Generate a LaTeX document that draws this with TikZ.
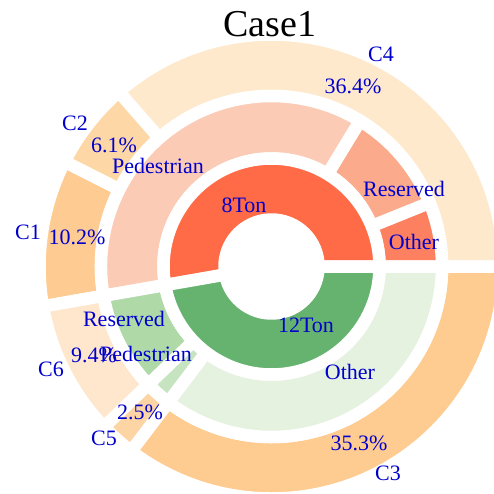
\documentclass[tikz,border=0pt]{standalone}
\usepackage{fontspec}
\setmainfont{Liberation Serif}

\definecolor{ton8}{RGB}{255,106,71}
\definecolor{ton12}{RGB}{101,179,110}
\definecolor{ped8}{RGB}{252,203,181}
\definecolor{res8}{RGB}{252,170,140}
\definecolor{oth8}{RGB}{253,128,96}
\definecolor{res12}{RGB}{176,217,168}
\definecolor{ped12}{RGB}{199,228,192}
\definecolor{oth12}{RGB}{229,242,223}
\definecolor{cfour}{RGB}{254,233,204}
\definecolor{ctwo}{RGB}{253,216,166}
\definecolor{cone}{RGB}{254,203,146}
\definecolor{csix}{RGB}{254,231,204}
\definecolor{cfive}{RGB}{253,213,165}
\definecolor{cthree}{RGB}{254,203,145}
\definecolor{labelblue}{RGB}{0,0,205}

\begin{document}
\begin{tikzpicture}[
    x=1pt, y=1pt,
    wedge/.style={draw=white, line width=12.5, line join=round},
    lbl/.style={text=labelblue, font=\fontsize{22}{26}\selectfont,
        anchor=base, inner sep=0pt},
    ttl/.style={font=\fontsize{38}{44}\selectfont, anchor=base, inner sep=0pt}
]
    \useasboundingbox (0,0) rectangle (494,493);
    \clip (0,0) rectangle (494,493);
    \begin{scope}[shift={(271.5,226.5)}]
        % outer ring
        \draw[wedge, fill=cfour] (0:170.5) arc[start angle=0, end angle=131.17, radius=170.5] -- (131.17:232) arc[start angle=131.17, end angle=0, radius=232] -- cycle;
        \draw[wedge, fill=ctwo] (131.17:170.5) arc[start angle=131.17, end angle=153.15, radius=170.5] -- (153.15:232) arc[start angle=153.15, end angle=131.17, radius=232] -- cycle;
        \draw[wedge, fill=cone] (153.15:170.5) arc[start angle=153.15, end angle=189.91, radius=170.5] -- (189.91:232) arc[start angle=189.91, end angle=153.15, radius=232] -- cycle;
        \draw[wedge, fill=csix] (189.91:170.5) arc[start angle=189.91, end angle=223.78, radius=170.5] -- (223.78:232) arc[start angle=223.78, end angle=189.91, radius=232] -- cycle;
        \draw[wedge, fill=cfive] (223.78:170.5) arc[start angle=223.78, end angle=232.79, radius=170.5] -- (232.79:232) arc[start angle=232.79, end angle=223.78, radius=232] -- cycle;
        \draw[wedge, fill=cthree] (232.79:170.5) arc[start angle=232.79, end angle=360, radius=170.5] -- (360:232) arc[start angle=360, end angle=232.79, radius=232] -- cycle;
        % middle ring
        \draw[wedge, fill=oth8] (0:108) arc[start angle=0, end angle=21.98, radius=108] -- (21.98:170.5) arc[start angle=21.98, end angle=0, radius=170.5] -- cycle;
        \draw[wedge, fill=res8] (21.98:108) arc[start angle=21.98, end angle=58.74, radius=108] -- (58.74:170.5) arc[start angle=58.74, end angle=21.98, radius=170.5] -- cycle;
        \draw[wedge, fill=ped8] (58.74:108) arc[start angle=58.74, end angle=189.91, radius=108] -- (189.91:170.5) arc[start angle=189.91, end angle=58.74, radius=170.5] -- cycle;
        \draw[wedge, fill=res12] (189.91:108) arc[start angle=189.91, end angle=223.78, radius=108] -- (223.78:170.5) arc[start angle=223.78, end angle=189.91, radius=170.5] -- cycle;
        \draw[wedge, fill=ped12] (223.78:108) arc[start angle=223.78, end angle=232.79, radius=108] -- (232.79:170.5) arc[start angle=232.79, end angle=223.78, radius=170.5] -- cycle;
        \draw[wedge, fill=oth12] (232.79:108) arc[start angle=232.79, end angle=360, radius=108] -- (360:170.5) arc[start angle=360, end angle=232.79, radius=170.5] -- cycle;
        % inner ring
        \draw[wedge, fill=ton8] (0:47) arc[start angle=0, end angle=189.91, radius=47] -- (189.91:108) arc[start angle=189.91, end angle=0, radius=108] -- cycle;
        \draw[wedge, fill=ton12] (189.91:47) arc[start angle=189.91, end angle=360, radius=47] -- (360:108) arc[start angle=360, end angle=189.91, radius=108] -- cycle;
    \end{scope}
    \node[ttl] (title) at (270,456.5) {Case1};
    % labels
    \node[lbl] (c4) at (381,431.3) {C4};
    \node[lbl] (p4) at (353,399.7) {36.4\%};
    \node[lbl] (c2) at (75,362.3) {C2};
    \node[lbl] (p2) at (114,340.7) {6.1\%};
    \node[lbl] (ped8lbl) at (158,319) {Pedestrian};
    \node[lbl] (res8lbl) at (404,297) {Reserved};
    \node[lbl] (ton8lbl) at (244,280.3) {8Ton};
    \node[lbl] (c1) at (28,253.7) {C1};
    \node[lbl] (p1) at (77,248.7) {10.2\%};
    \node[lbl] (oth8lbl) at (414,243.7) {Other};
    \node[lbl] (res12lbl) at (124,167) {Reserved};
    \node[lbl] (ton12lbl) at (306,160.7) {12Ton};
    \node[lbl] (p6) at (94,130.7) {9.4\%};
    \node[lbl] (ped12lbl) at (146,131.3) {Pedestrian};
    \node[lbl] (c6) at (51,116.3) {C6};
    \node[lbl] (oth12lbl) at (350,113.7) {Other};
    \node[lbl] (p5) at (140,73.7) {2.5\%};
    \node[lbl] (c5) at (104,47.3) {C5};
    \node[lbl] (p3) at (359,42.3) {35.3\%};
    \node[lbl] (c3) at (388,12.3) {C3};
\end{tikzpicture}
\end{document}
